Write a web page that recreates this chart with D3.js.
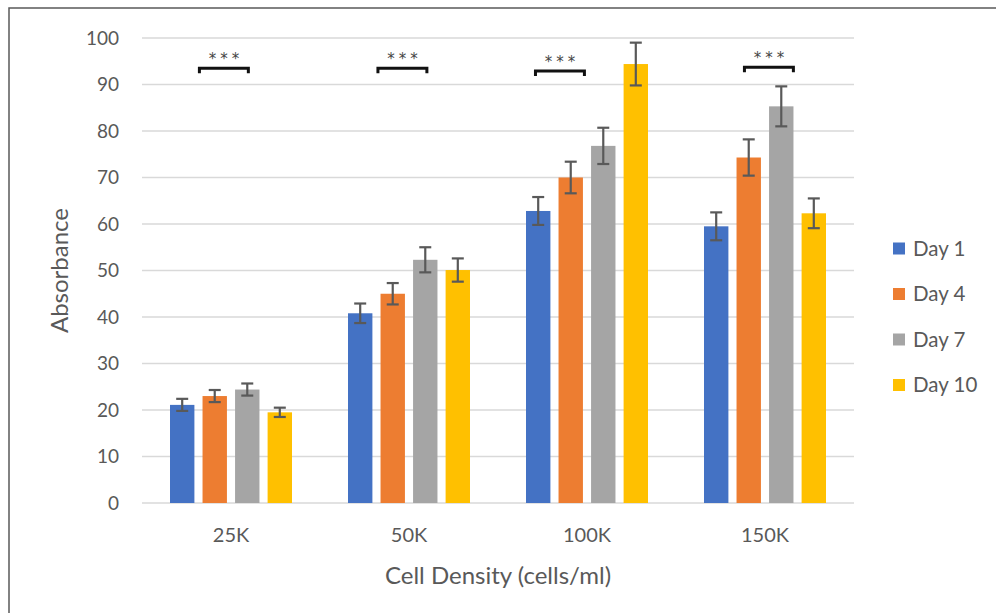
<!DOCTYPE html>
<html>
<head>
<meta charset="utf-8">
<script src="https://cdnjs.cloudflare.com/ajax/libs/d3/7.8.5/d3.min.js"></script>
<style>
  body { margin: 0; background: #fff; }
  svg { display: block; font-family: Lato, "Open Sans", sans-serif; }
</style>
</head>
<body>
<svg width="996" height="613"></svg>
<script>
// data
var categories = ["25K", "50K", "100K", "150K"];
var series = ["Day 1", "Day 4", "Day 7", "Day 10"];
var colors = ["#4472C4", "#ED7D31", "#A5A5A5", "#FFC000"];
var day1 = [21.1, 40.8, 62.8, 59.5];
var day4 = [23.0, 45.0, 70.0, 74.3];
var day7 = [24.4, 52.3, 76.8, 85.3];
var day10 = [19.5, 50.1, 94.4, 62.3];
var err1 = [1.3, 2.1, 3.0, 3.0];
var err4 = [1.3, 2.3, 3.4, 3.9];
var err7 = [1.3, 2.7, 3.9, 4.3];
var err10 = [1.0, 2.5, 4.6, 3.2];
var yTicks = [0, 10, 20, 30, 40, 50, 60, 70, 80, 90, 100];
// significance brackets: height (value), offset from category centre and width (fractions of band)
var sigY = [93.5, 93.5, 92.9, 93.7];
var sigOffset = [-0.04, -0.037, -0.152, 0.022];
var sigWidth = 0.275;

var values = [day1, day4, day7, day10];
var errors = [err1, err4, err7, err10];

var svg = d3.select("svg");
var pLeft = 142, pRight = 854, pTop = 38, pBottom = 503;

var x0 = d3.scaleBand().domain(categories).range([pLeft, pRight]).padding(0);
var groupPad = 28;
var x1 = d3.scaleBand().domain(series)
    .range([groupPad, x0.bandwidth() - groupPad]).paddingInner(0.25);
var y = d3.scaleLinear().domain([0, 100]).range([pBottom, pTop]);

// outer frame
svg.append("rect")
    .attr("x", 9).attr("y", 8)
    .attr("width", 1100).attr("height", 700)
    .attr("fill", "none")
    .attr("stroke", "#595959")
    .attr("stroke-width", 1.5);

// gridlines
svg.append("g")
  .selectAll("line")
  .data(yTicks)
  .enter().append("line")
    .attr("x1", pLeft).attr("x2", pRight)
    .attr("y1", function(d) { return y(d); })
    .attr("y2", function(d) { return y(d); })
    .attr("stroke", "#d9d9d9")
    .attr("stroke-width", 1.5);

// y axis labels
var yAxis = svg.append("g")
    .attr("transform", "translate(" + (pLeft - 2) + ",0)")
    .call(d3.axisLeft(y).tickValues(yTicks).tickSize(0).tickPadding(21));
yAxis.select(".domain").remove();
yAxis.selectAll("text")
    .attr("fill", "#595959")
    .style("font-size", "19px")
    .style("font-family", "Lato, sans-serif");

// x axis labels
var xAxis = svg.append("g")
    .attr("transform", "translate(0," + pBottom + ")")
    .call(d3.axisBottom(x0).tickSize(0).tickPadding(25));
xAxis.select(".domain").remove();
xAxis.selectAll("text")
    .attr("fill", "#595959")
    .style("font-size", "20px")
    .style("font-family", "Lato, sans-serif");

// bars
var rows = [];
categories.forEach(function(c, i) {
  series.forEach(function(s, j) {
    rows.push({cat: c, ser: s, v: values[j][i], e: errors[j][i], color: colors[j]});
  });
});

var bars = svg.append("g");
bars.selectAll("rect")
  .data(rows)
  .enter().append("rect")
    .attr("x", function(d) { return x0(d.cat) + x1(d.ser); })
    .attr("y", function(d) { return y(d.v); })
    .attr("width", x1.bandwidth())
    .attr("height", function(d) { return y(0) - y(d.v); })
    .attr("fill", function(d) { return d.color; });

// error bars
var capHalf = 6;
var eb = svg.append("g").attr("stroke", "#595959").attr("stroke-width", 2.2);
rows.forEach(function(d) {
  var cx = x0(d.cat) + x1(d.ser) + x1.bandwidth() / 2;
  eb.append("line").attr("x1", cx).attr("x2", cx)
    .attr("y1", y(d.v + d.e)).attr("y2", y(d.v - d.e));
  eb.append("line").attr("x1", cx - capHalf).attr("x2", cx + capHalf)
    .attr("y1", y(d.v + d.e)).attr("y2", y(d.v + d.e));
  eb.append("line").attr("x1", cx - capHalf).attr("x2", cx + capHalf)
    .attr("y1", y(d.v - d.e)).attr("y2", y(d.v - d.e));
});

// significance brackets
var sig = svg.append("g");
categories.forEach(function(c, i) {
  var cx = x0(c) + x0.bandwidth() / 2 + sigOffset[i] * x0.bandwidth();
  var w = sigWidth * x0.bandwidth();
  var yy = y(sigY[i]);
  sig.append("path")
    .attr("d", "M" + (cx - w / 2) + "," + (yy + 5) + "V" + yy + "H" + (cx + w / 2) + "V" + (yy + 5))
    .attr("fill", "none")
    .attr("stroke", "#111")
    .attr("stroke-width", 3);
  sig.append("text")
    .attr("x", cx + 2)
    .attr("y", yy - 4)
    .attr("text-anchor", "middle")
    .attr("fill", "#444")
    .style("font-family", "'DejaVu Sans', sans-serif")
    .style("font-size", "15px")
    .style("letter-spacing", "4px")
    .text("***");
});

// legend
var legend = svg.append("g");
series.forEach(function(s, j) {
  var ly = 248.5 + j * 45.5;
  legend.append("rect")
    .attr("x", 893).attr("y", ly - 6)
    .attr("width", 12).attr("height", 12)
    .attr("fill", colors[j]);
  legend.append("text")
    .attr("x", 913).attr("y", ly)
    .attr("dy", "0.35em")
    .attr("fill", "#595959")
    .style("font-size", "20.5px")
    .text(s);
});

// axis titles
svg.append("text")
    .attr("x", (pLeft + pRight) / 2)
    .attr("y", 584)
    .attr("text-anchor", "middle")
    .attr("fill", "#595959")
    .style("font-size", "24px")
    .text("Cell Density (cells/ml)");

svg.append("text")
    .attr("transform", "translate(68," + ((pTop + pBottom) / 2) + ") rotate(-90)")
    .attr("text-anchor", "middle")
    .attr("fill", "#595959")
    .style("font-size", "24px")
    .text("Absorbance");
</script>
</body>
</html>
